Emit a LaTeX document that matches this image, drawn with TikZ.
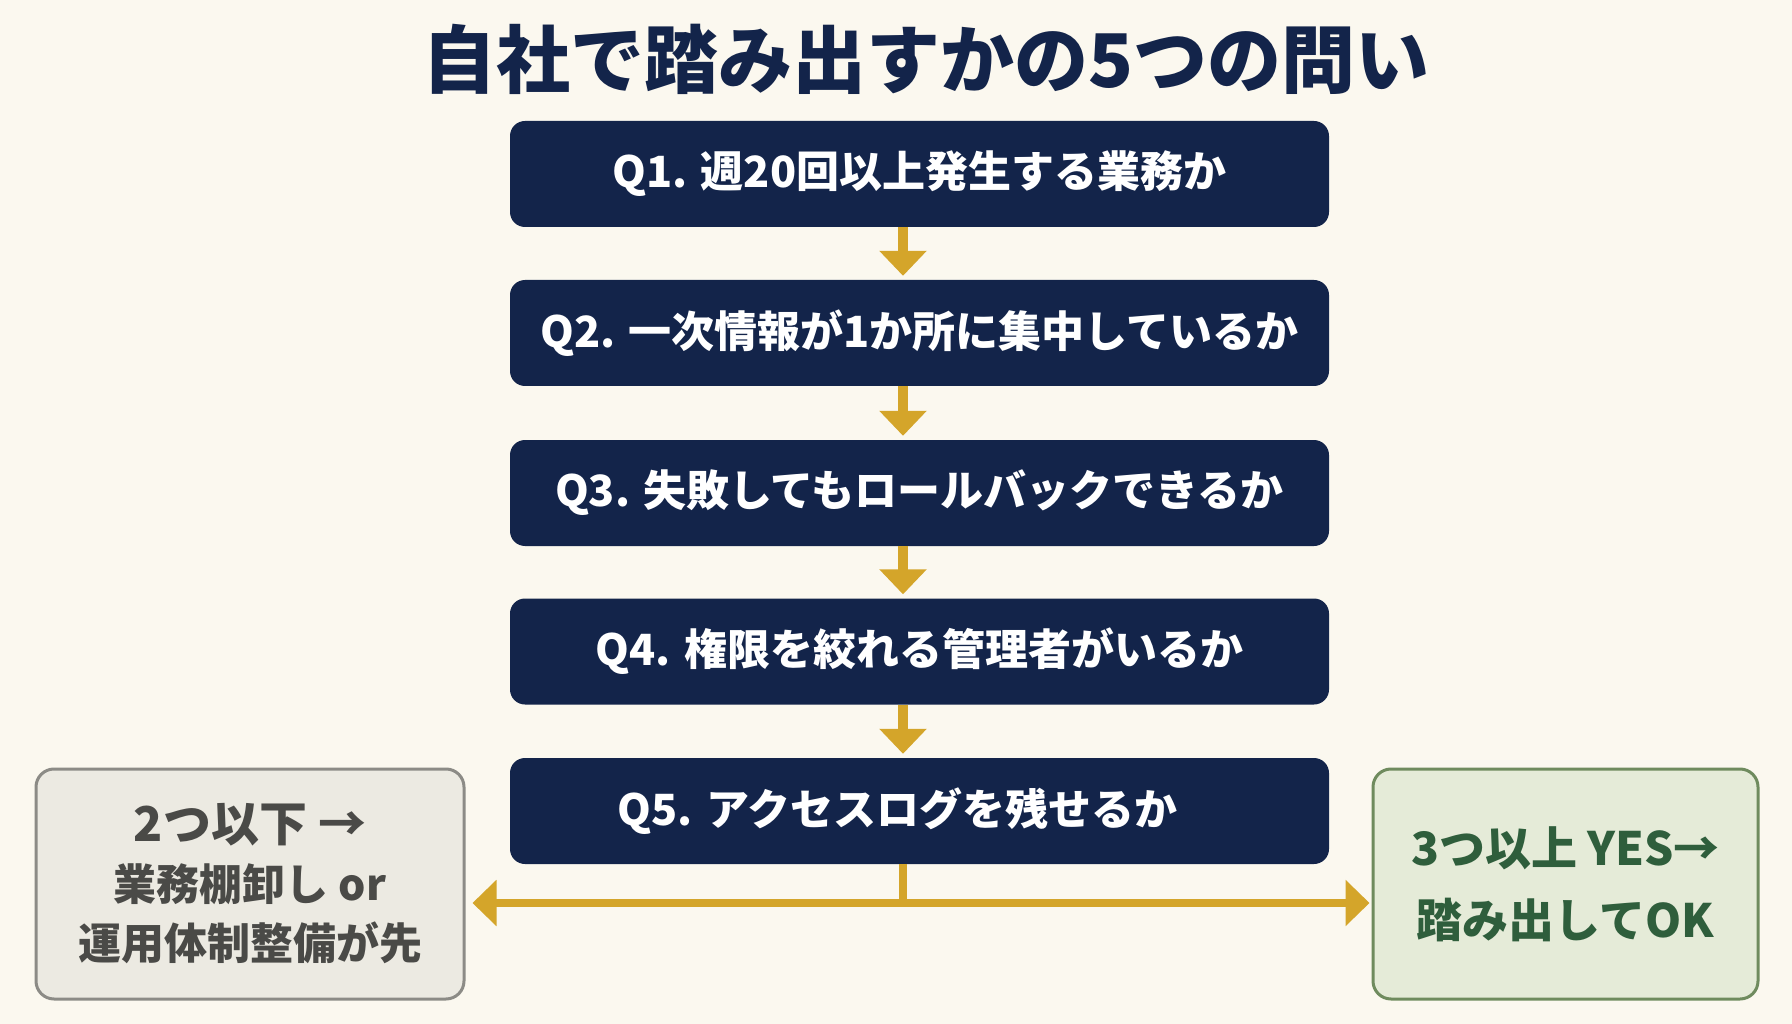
\documentclass[tikz,border=0pt]{standalone}
\usepackage{fontspec}
\setmainfont{Noto Sans CJK JP}
\usetikzlibrary{arrows.meta}
\definecolor{bg}{HTML}{FBF8EF}
\definecolor{navy}{HTML}{13244A}
\definecolor{gold}{HTML}{D4A52A}
\definecolor{graybox}{HTML}{ECEAE2}
\definecolor{grayline}{HTML}{8C8B86}
\definecolor{graytext}{HTML}{4A4A47}
\definecolor{greenbox}{HTML}{E5EBD8}
\definecolor{greenline}{HTML}{6F8B5E}
\definecolor{greentext}{HTML}{2F5E3C}
\tikzset{
  qbox/.style={fill=navy, rounded corners=15pt, minimum width=819pt, minimum height=106pt,
    text=white, font=\fontsize{43}{50}\selectfont\bfseries, inner sep=0pt},
  sidebox/.style={rounded corners=18pt, line width=3pt, minimum height=230pt, align=center, inner sep=0pt},
  downarrow/.style={draw=gold, line width=10pt, -{Triangle[width=46pt,length=25pt]}, shorten >=4pt},
  gline/.style={draw=gold, line width=8pt},
}
\begin{document}
\begin{tikzpicture}[x=1pt,y=-1pt]
\fill[bg] (0,0) rectangle (1792,1024);
\useasboundingbox (0,0) rectangle (1792,1024);

\node[text=navy, font=\fontsize{74}{80}\selectfont\bfseries] (title) at (926,59) {自社で踏み出すかの5つの問い};

\node[qbox] (q1) at (919.5,174) {Q1. 週20回以上発生する業務か};
\node[qbox] (q2) at (919.5,333) {Q2. 一次情報が1か所に集中しているか};
\node[qbox] (q3) at (919.5,493) {Q3. 失敗してもロールバックできるか};
\node[qbox] (q4) at (919.5,651.5) {Q4. 権限を絞れる管理者がいるか};
\node[qbox] (q5) at (919.5,811) {Q5. アクセスログを残せるか\hspace*{44pt}};

\node[sidebox, fill=graybox, draw=grayline, text=graytext, minimum width=428pt,
  font=\fontsize{43}{59}\selectfont\bfseries] (lb) at (250,884)
  {\rule{0pt}{10pt}{\fontsize{48}{59}\selectfont 2つ以下 →}\\
   業務棚卸し or\\
   運用体制整備が先};
\node[sidebox, fill=greenbox, draw=greenline, text=greentext, minimum width=385pt,
  font=\fontsize{46}{72}\selectfont\bfseries] (rb) at (1565.5,884)
  {3つ以上 YES→\\
   踏み出してOK};

\coordinate (ax) at (903,0);
\coordinate (j) at (903,903);

\draw[downarrow] (q1.south -| ax) -- (q2.north -| ax);
\draw[downarrow] (q2.south -| ax) -- (q3.north -| ax);
\draw[downarrow] (q3.south -| ax) -- (q4.north -| ax);
\draw[downarrow] (q4.south -| ax) -- (q5.north -| ax);

\draw[gline] (q5.south -| ax) -- (j);
\draw[gline, {Triangle[width=45pt,length=24pt]}-{Triangle[width=45pt,length=24pt]}, shorten <=7pt, shorten >=2pt]
  (lb.east |- j) -- (rb.west |- j);
\end{tikzpicture}
\end{document}
